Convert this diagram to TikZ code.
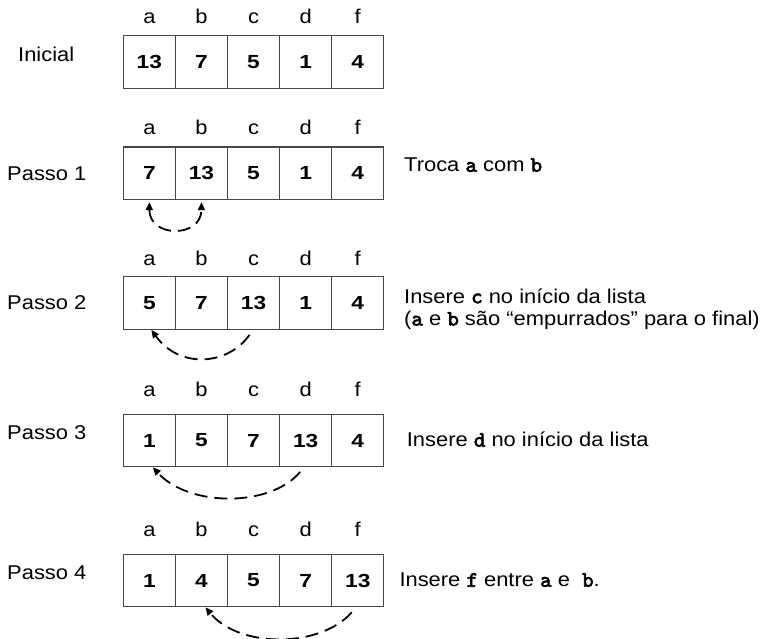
\documentclass[tikz,border=0pt]{standalone}
\usepackage{fontspec}
\setmainfont{Liberation Sans}[FakeStretch=1.1]
\newfontfamily\digitfont{Liberation Sans}[FakeStretch=1.2]
\newfontfamily\codefont{lmmono10-regular}[Extension=.otf, AutoFakeBold=3, Scale=1.1]
\newcommand{\cv}[1]{{\codefont\bfseries #1}}
\usetikzlibrary{arrows.meta}
\begin{document}
\begin{tikzpicture}[x=1bp,y=-1bp,
  cell/.style={draw=black!72, line width=1.3bp, minimum width=52.1bp, minimum height=52.4bp, inner sep=0pt, font=\digitfont\fontsize{19}{23}\selectfont\bfseries},
  hdr/.style={anchor=base, inner sep=0pt, font=\fontsize{20}{24}\selectfont},
  lbl/.style={anchor=base west, inner sep=0pt, font=\fontsize{20}{24}\selectfont},
  mv/.style={dash pattern=on 13bp off 7bp, line width=1.8bp, -{Triangle[length=8bp,width=7bp]}}]
\useasboundingbox (0,0) rectangle (765,639);
\foreach \row/\yc/\yb/\vals in {1/62/24/{13,7,5,1,4}, 2/173.3/135/{7,13,5,1,4}, 3/303/265.7/{5,7,13,1,4}, 4/440.5/396.7/{1,5,7,13,4}, 5/580.5/536.7/{1,4,5,7,13}}{
  \foreach \v [count=\i] in \vals {
    \node[cell] (r\row-\i) at ({123.3+52.1*(\i-0.5)},\yc) {\v};
  }
  \foreach \h [count=\i] in {a,b,c,d,f} {
    \node[hdr] (h\row-\i) at ({123.3+52.1*(\i-0.5)},\yb) {\h};
  }
}
\node[lbl] (l1) at (18,61.5) {Inicial};
\node[lbl] (l2) at (7,180.5) {Passo 1};
\node[lbl] (l3) at (7,309.3) {Passo 2};
\node[lbl] (l4) at (7,439.3) {Passo 3};
\node[lbl] (l5) at (7,579.3) {Passo 4};
\node[lbl] (t1) at (404,171.7) {Troca \cv{a} com \cv{b}};
\node[lbl] (t2) at (404,303.3) {Insere \cv{c} no início da lista};
\node[lbl] (t2b) at (404,325.5) {(\cv{a} e \cv{b} são “empurrados” para o final)};
\node[lbl] (t3) at (406.7,446.7) {Insere \cv{d} no início da lista};
\node[lbl] (t4) at (399.3,586.7) {Insere \cv{f} entre \cv{a} e\ \ \cv{b}.};
\draw[mv, {Triangle[length=8bp,width=7bp]}-{Triangle[length=8bp,width=7bp]}]
  ([yshift=-2bp]r2-1.south) .. controls ([shift={(0,38)}]r2-1.south) and ([shift={(0,38)}]r2-2.south) .. ([yshift=-2bp]r2-2.south);
\draw[mv] ([shift={(-4,5)}]r3-3.south) .. controls ([shift={(-26,36)}]r3-3.south) and ([shift={(30,39)}]r3-1.south) .. ([shift={(2,0)}]r3-1.south);
\draw[mv] ([shift={(-5.5,4.5)}]r4-4.south) .. controls ([shift={(-35,40)}]r4-4.south) and ([shift={(40,40)}]r4-1.south) .. ([shift={(3.5,0)}]r4-1.south);
\draw[mv] ([shift={(-6,5)}]r5-5.south) .. controls ([shift={(-38,41)}]r5-5.south) and ([shift={(38,41)}]r5-2.south) .. ([shift={(4,0)}]r5-2.south);
\end{tikzpicture}
\end{document}
